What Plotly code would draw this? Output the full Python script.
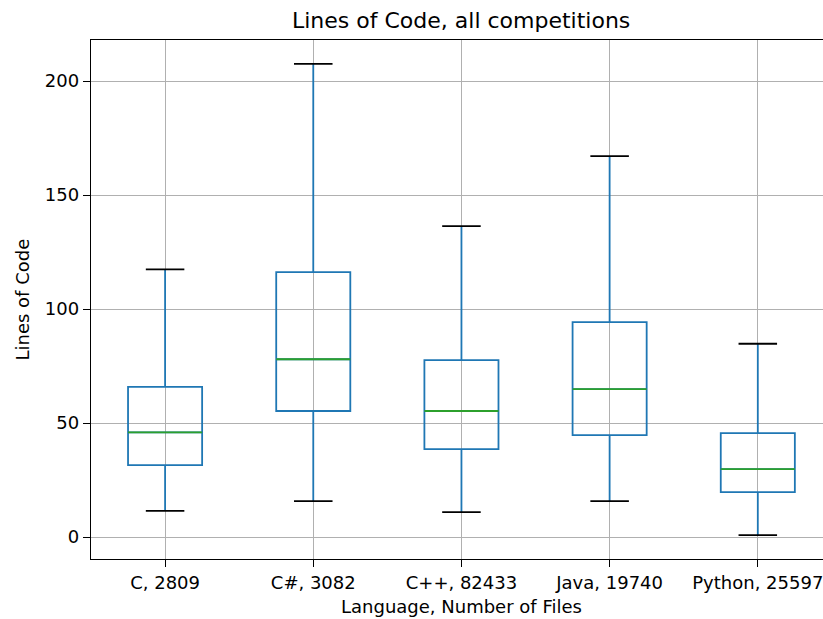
import plotly.graph_objects as go

languages = ["C, 2809", "C#, 3082", "C++, 82433", "Java, 19740", "Python, 25597"]
lower_whisker = [11.5, 15.8, 11.0, 15.8, 0.9]
q1 = [31.6, 55.3, 38.6, 44.7, 19.7]
median = [45.9, 78.0, 55.3, 64.9, 29.8]
q3 = [65.9, 116.2, 77.6, 94.3, 45.6]
upper_whisker = [117.4, 207.5, 136.4, 167.1, 84.8]
y_ticks = [0, 50, 100, 150, 200]

pos = list(range(1, len(languages) + 1))
BLUE = "#1f77b4"
GREEN = "#2ca02c"
FONT = "DejaVu Sans"

fig = go.Figure()
fig.add_trace(go.Box(
    x=pos, q1=q1, median=median, q3=q3,
    lowerfence=lower_whisker, upperfence=upper_whisker,
    width=0.5, whiskerwidth=0, boxpoints=False,
    line=dict(color=BLUE, width=1.8), fillcolor="rgba(0,0,0,0)",
    showlegend=False, hoverinfo="skip",
))

mx, my = [], []
for p, m in zip(pos, median):
    mx += [p - 0.25, p + 0.25, None]
    my += [m, m, None]
fig.add_trace(go.Scatter(x=mx, y=my, mode="lines", line=dict(color=GREEN, width=1.8),
                         showlegend=False, hoverinfo="skip"))

cx, cy = [], []
for p, lo, hi in zip(pos, lower_whisker, upper_whisker):
    cx += [p - 0.13, p + 0.13, None, p - 0.13, p + 0.13, None]
    cy += [lo, lo, None, hi, hi, None]
fig.add_trace(go.Scatter(x=cx, y=cy, mode="lines", line=dict(color="black", width=1.8),
                         showlegend=False, hoverinfo="skip"))

fig.update_layout(
    width=823, height=619,
    margin=dict(l=91, r=0, t=40, b=60),
    plot_bgcolor="white", paper_bgcolor="white",
    font=dict(family=FONT, size=18, color="black"),
    xaxis=dict(
        range=[0.5, 5.44], tickvals=pos, ticktext=languages,
        showgrid=True, gridcolor="#b0b0b0", gridwidth=1.4,
        showline=True, linecolor="black", linewidth=1.4, mirror=True,
        ticks="outside", ticklen=7, tickwidth=1.4, tickcolor="black",
        ticklabeloverflow="allow",
        zeroline=False, tickfont=dict(family=FONT, size=18, color="black"),
    ),
    yaxis=dict(
        range=[-9.6, 218], tickvals=y_ticks,
        showgrid=True, gridcolor="#b0b0b0", gridwidth=1.4,
        showline=True, linecolor="black", linewidth=1.4, mirror=False,
        ticks="outside", ticklen=7, tickwidth=1.4, tickcolor="black",
        zeroline=False, tickfont=dict(family=FONT, size=18, color="black"),
    ),
    annotations=[
        dict(text="Lines of Code, all competitions", x=3, xref="x", y=1, yref="paper",
             yanchor="middle", yshift=20, showarrow=False,
             font=dict(family=FONT, size=22, color="black")),
        dict(text="Language, Number of Files", x=3, xref="x", y=0, yref="paper",
             yanchor="middle", yshift=-47, showarrow=False,
             font=dict(family=FONT, size=18, color="black")),
        dict(text="Lines of Code", x=0, xref="paper", xanchor="center", xshift=-69,
             y=0.5, yref="paper", yanchor="middle", textangle=-90, showarrow=False,
             font=dict(family=FONT, size=18, color="black")),
    ],
)

fig.write_html("out.html")
